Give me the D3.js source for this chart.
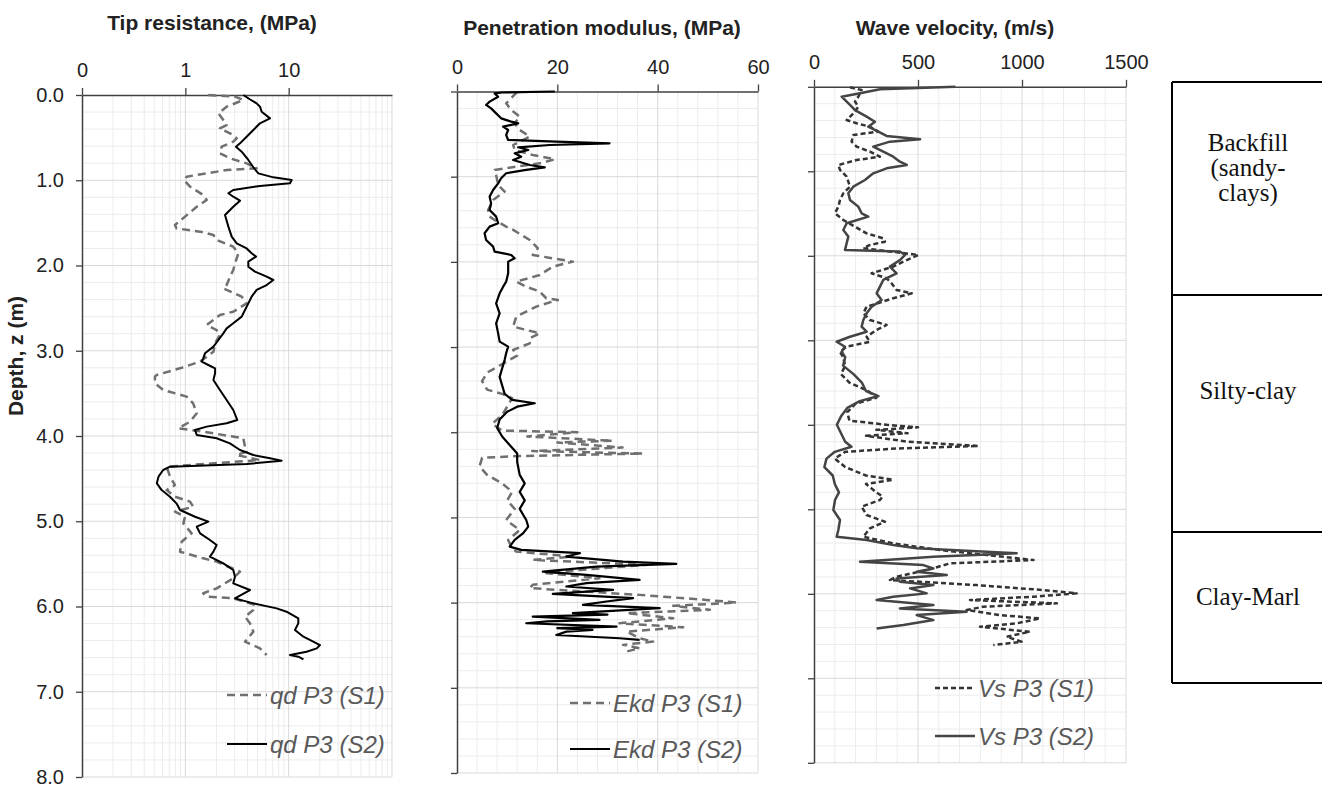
<!DOCTYPE html>
<html lang="en">
<head>
<meta charset="utf-8">
<title>CPT / DMT profiles</title>
<script src="https://cdn.jsdelivr.net/npm/d3@7"></script>
<style>
  body { margin: 0; background: #fff; }
</style>
</head>
<body>
<svg id="chart" width="1322" height="785" font-family="Liberation Sans, Arial, sans-serif"></svg>
<script>
// [depth (m), value]
const qdS1 = [[0,1.67],[0.02,3.03],[0.059,3.64],[0.137,2.51],[0.215,2.09],[0.293,2.33],[0.352,2.51],[0.391,2.16],[0.45,2.71],[0.508,3.14],[0.547,2.91],[0.606,2.25],[0.684,2.16],[0.743,2.71],[0.802,3.92],[0.86,4.9],[0.88,2.51],[0.958,1.03],[0.997,0.971],[1.075,1.11],[1.173,1.49],[1.232,1.61],[1.31,1.29],[1.427,0.993],[1.525,0.794],[1.564,0.82],[1.603,1.39],[1.642,1.87],[1.701,2.01],[1.779,2.91],[1.857,3.26],[1.975,3.03],[2.053,2.91],[2.131,2.71],[2.229,2.51],[2.268,2.33],[2.366,3.51],[2.444,3.92],[2.542,2.91],[2.581,2.16],[2.698,1.61],[2.757,2.01],[2.815,2.16],[2.913,1.94],[3.011,1.87],[3.128,1.39],[3.206,0.888],[3.284,0.528],[3.304,0.508],[3.382,0.508],[3.46,0.612],[3.538,1.03],[3.617,1.19],[3.734,1.29],[3.832,1.11],[3.91,0.856],[3.949,1.49],[4.027,3.64],[4.125,3.78],[4.184,3.92],[4.223,3.14],[4.282,5.28],[4.36,0.66],[4.477,0.711],[4.575,0.794],[4.634,0.66],[4.712,0.794],[4.77,1.11],[4.829,1.19],[4.888,0.794],[4.947,0.993],[5.025,0.957],[5.142,1.15],[5.24,0.922],[5.357,0.888],[5.435,1.49],[5.474,2.01],[5.591,3.38],[5.669,2.91],[5.787,2.01],[5.845,1.49],[5.884,1.61],[5.904,2.91],[5.982,4.72],[6.041,4.55],[6.119,3.78],[6.197,4.22],[6.295,4.55],[6.413,3.78],[6.491,5.28],[6.569,6.12]];
const qdS2 = [[0,3.64],[0.05,4.2],[0.098,4.9],[0.137,5.28],[0.196,5.48],[0.274,6.6],[0.332,5.28],[0.41,4.55],[0.489,3.92],[0.567,3.38],[0.606,3.09],[0.665,3.51],[0.762,4.07],[0.848,4.55],[0.919,5.09],[0.966,7.11],[0.997,10.7],[1.036,10.3],[1.067,5.28],[1.114,2.91],[1.153,2.61],[1.193,2.91],[1.24,3.38],[1.31,2.91],[1.408,2.42],[1.544,2.61],[1.662,2.81],[1.74,3.14],[1.8,3.92],[1.857,4.38],[1.896,4.83],[1.955,4.07],[2.014,4.07],[2.072,4.72],[2.131,6.12],[2.17,7.11],[2.229,6.12],[2.287,4.9],[2.366,4.38],[2.444,4.07],[2.522,3.78],[2.6,3.51],[2.678,2.91],[2.737,2.51],[2.796,2.33],[2.874,2.09],[2.952,1.87],[3.03,1.55],[3.089,1.49],[3.128,1.44],[3.167,1.67],[3.206,1.94],[3.265,1.94],[3.343,1.87],[3.46,2.16],[3.577,2.51],[3.695,2.91],[3.812,3.18],[3.851,2.51],[3.89,1.61],[3.929,1.24],[3.988,1.29],[4.027,2.01],[4.086,2.7],[4.164,3.38],[4.223,4.55],[4.262,6.6],[4.289,8.55],[4.329,3.92],[4.36,0.71],[4.399,0.61],[4.477,0.55],[4.555,0.53],[4.634,0.59],[4.712,0.71],[4.79,0.82],[4.868,0.89],[4.947,1.24],[5.005,1.67],[5.064,1.29],[5.142,1.39],[5.22,1.73],[5.279,2.01],[5.357,1.87],[5.415,1.73],[5.494,2.33],[5.572,2.91],[5.65,3.02],[5.729,2.91],[5.807,4.22],[5.905,3.02],[5.963,4.55],[6.022,7.66],[6.061,9.54],[6.139,12.4],[6.198,12.4],[6.276,11.5],[6.354,13.9],[6.413,17.3],[6.452,20.1],[6.491,18.7],[6.53,14.9],[6.569,10.3],[6.589,12.4],[6.62,13.9]];

const ekdS1 = [[0.005,12],[0.139,9.8],[0.217,10.8],[0.295,12.5],[0.374,11.5],[0.452,12.5],[0.53,14.5],[0.628,11.2],[0.687,11.5],[0.745,15.1],[0.796,19.5],[0.843,16.5],[0.882,11.8],[0.921,7.5],[0.98,7.8],[1.097,8.2],[1.175,9.5],[1.273,7.2],[1.391,6.2],[1.469,6.5],[1.508,7.5],[1.586,9.8],[1.625,11.2],[1.743,14.5],[1.84,16.1],[1.919,15.1],[1.997,23.1],[2.056,19.1],[2.154,16.5],[2.232,11.8],[2.291,13.8],[2.349,16.5],[2.427,17.8],[2.447,20.1],[2.525,15.8],[2.643,11.8],[2.76,11.2],[2.839,16.5],[2.897,14.5],[2.956,14.5],[3.034,11.2],[3.1,12],[3.2,9],[3.3,6],[3.4,5],[3.5,6],[3.55,9],[3.6,11],[3.7,10],[3.8,9],[3.9,7],[3.98,9],[4.0,24],[4.05,14],[4.1,31],[4.12,20],[4.18,33],[4.22,15],[4.25,37],[4.28,12],[4.3,5],[4.4,4.5],[4.5,6],[4.6,9],[4.7,11],[4.8,10],[4.9,11.5],[5.03,9.8],[5.147,12.5],[5.264,10.2],[5.342,10.8],[5.401,11.8],[5.459,23.1],[5.498,15.1],[5.557,37.7],[5.616,24.5],[5.655,17.8],[5.713,28.4],[5.791,15.1],[5.83,14.5],[5.909,36.4],[5.968,49.7],[5.999,55.7],[6.038,43.1],[6.085,50.4],[6.124,33.8],[6.183,43.1],[6.242,32.4],[6.289,45.1],[6.34,33.8],[6.418,36.4],[6.457,39.1],[6.496,33.1],[6.535,36.4],[6.574,33.8]];
const ekdS2 = [[0,19.5],[0.012,9],[0.022,7.5],[0.061,8.2],[0.119,6.5],[0.158,5.8],[0.198,6.8],[0.257,7.8],[0.315,8.8],[0.354,10.8],[0.374,12.2],[0.413,9.2],[0.452,10.2],[0.511,9.8],[0.569,10.2],[0.589,19.8],[0.608,30.4],[0.628,18.5],[0.655,12.2],[0.687,14.2],[0.726,11.5],[0.765,12.8],[0.804,11.2],[0.863,14.5],[0.89,17.5],[0.921,13.8],[0.96,9.8],[1.019,8.8],[1.078,8.2],[1.156,7.2],[1.234,6.5],[1.313,6.8],[1.391,6.5],[1.469,7.8],[1.547,8.2],[1.586,6.5],[1.664,5.5],[1.743,5.8],[1.821,7.2],[1.88,7.5],[1.919,10.8],[1.958,11.5],[1.997,10.2],[2.134,10.2],[2.232,9.8],[2.291,9.2],[2.369,8.5],[2.486,7.8],[2.604,8.5],[2.721,7.8],[2.839,8.2],[2.936,8.5],[2.995,10.2],[3.073,9.8],[3.15,9.5],[3.25,9],[3.35,8.5],[3.45,9],[3.55,9.5],[3.62,11],[3.66,15.5],[3.7,12],[3.76,10],[3.85,8.5],[3.95,8],[4.05,9],[4.15,10.5],[4.25,12],[4.35,12],[4.5,12.5],[4.6,13.5],[4.7,12.5],[4.8,13.5],[4.9,12.5],[5.03,13.8],[5.107,14.2],[5.185,13.2],[5.264,11.5],[5.342,10.5],[5.381,12.8],[5.42,24.5],[5.459,21.8],[5.518,33.1],[5.545,43.7],[5.577,27.8],[5.635,17.1],[5.674,25.8],[5.733,36.4],[5.772,25.8],[5.811,21.8],[5.85,31.1],[5.897,19.1],[5.948,35.1],[5.987,29.8],[6.026,25.1],[6.065,40.4],[6.124,23.1],[6.14,30],[6.164,15.1],[6.203,28.4],[6.22,18],[6.242,13.8],[6.281,31.8],[6.3,20],[6.32,27],[6.34,21.8],[6.38,19.8],[6.418,32.4],[6.438,36.4]];

const vsS1 = [[0.006,173],[0.038,229],[0.117,213],[0.176,197],[0.235,213],[0.314,189],[0.393,157],[0.432,205],[0.472,269],[0.531,309],[0.57,189],[0.649,181],[0.708,205],[0.768,269],[0.827,317],[0.867,205],[0.925,117],[0.984,125],[1.063,157],[1.182,173],[1.26,141],[1.339,125],[1.418,117],[1.497,101],[1.576,141],[1.655,197],[1.734,253],[1.793,333],[1.833,341],[1.872,269],[1.911,237],[1.99,502],[2.05,446],[2.128,381],[2.207,277],[2.266,349],[2.326,373],[2.405,397],[2.444,470],[2.503,381],[2.602,253],[2.681,237],[2.76,269],[2.819,349],[2.878,301],[2.958,253],[3.017,269],[3.076,157],[3.135,125],[3.2,140],[3.3,150],[3.4,130],[3.5,170],[3.6,260],[3.68,300],[3.75,200],[3.85,160],[3.95,170],[4.0,350],[4.03,500],[4.06,300],[4.1,450],[4.13,250],[4.2,450],[4.25,790],[4.28,400],[4.32,150],[4.4,100],[4.5,150],[4.6,250],[4.65,380],[4.7,250],[4.8,300],[4.85,330],[4.89,317],[4.969,229],[5.068,253],[5.147,341],[5.226,269],[5.324,237],[5.403,381],[5.482,606],[5.541,830],[5.6,1055],[5.64,654],[5.719,542],[5.798,397],[5.837,365],[5.897,782],[5.956,1103],[5.995,1263],[6.034,1055],[6.074,750],[6.113,1167],[6.153,814],[6.192,734],[6.252,894],[6.291,1087],[6.35,974],[6.39,798],[6.449,1038],[6.508,926],[6.568,998],[6.607,862]];
const vsS2 = [[0,680],[0.03,317],[0.077,221],[0.117,133],[0.176,157],[0.215,173],[0.275,197],[0.353,253],[0.413,293],[0.472,261],[0.531,309],[0.582,349],[0.622,510],[0.649,365],[0.708,285],[0.768,333],[0.827,381],[0.886,413],[0.925,446],[0.965,349],[1.024,285],[1.103,245],[1.182,189],[1.26,165],[1.339,173],[1.418,213],[1.497,229],[1.536,261],[1.615,157],[1.694,141],[1.773,165],[1.851,157],[1.93,149],[1.95,413],[1.99,438],[2.05,413],[2.128,365],[2.207,397],[2.286,333],[2.365,317],[2.444,301],[2.523,325],[2.602,277],[2.681,253],[2.76,237],[2.839,229],[2.898,253],[2.958,173],[3.017,109],[3.076,149],[3.135,133],[3.2,150],[3.3,140],[3.4,190],[3.5,230],[3.6,250],[3.66,310],[3.72,220],[3.8,160],[3.9,130],[4.0,110],[4.1,130],[4.2,150],[4.26,180],[4.32,100],[4.4,60],[4.5,50],[4.6,90],[4.7,100],[4.8,120],[4.89,101],[5.008,93],[5.126,125],[5.245,117],[5.324,109],[5.364,253],[5.423,381],[5.462,494],[5.521,974],[5.561,574],[5.62,221],[5.66,526],[5.7,574],[5.739,494],[5.778,638],[5.818,397],[5.857,413],[5.897,574],[5.936,462],[5.995,542],[6.034,381],[6.074,301],[6.133,574],[6.173,413],[6.212,734],[6.252,494],[6.311,574],[6.37,430],[6.41,301]];

const depthTicks = [0, 1, 2, 3, 4, 5, 6, 7, 8];
const qdTicks = [0.1, 1, 10];
const ekdTicks = [0, 20, 40, 60];
const vsTicks = [0, 500, 1000, 1500];

const layerNames = [["Backfill", "(sandy-", "clays)"], ["Silty-clay"], ["Clay-Marl"]];
const layerBounds = [0, 2.48, 5.24, 7.0];
const layerLabelDepth = [1.0, 3.6, 6.0];

const svg = d3.select('#chart');

const panels = [
  {
    title: 'Tip resistance, (MPa)', titleX: 212, titleY: 30,
    x: d3.scaleLog().domain([0.1, 100]).range([82, 392]),
    y: d3.scaleLinear().domain([0, 8]).range([95, 777]),
    ticks: qdTicks, fmt: d => d < 1 ? '0' : d,
    major: [1, 10, 100],
    minor: [0.1, 1, 10].flatMap(b => d3.range(2, 10).map(k => b * k)),
    yLabels: true,
    series: [
      { data: qdS1, color: '#707070', width: 2.5, dash: '8,5', name: 'qd P3 (S1)' },
      { data: qdS2, color: '#000', width: 2, dash: null, name: 'qd P3 (S2)' }
    ],
    legX: 227, legY: [695, 744]
  },
  {
    title: 'Penetration modulus, (MPa)', titleX: 602, titleY: 35,
    x: d3.scaleLinear().domain([0, 60]).range([457, 758]),
    y: d3.scaleLinear().domain([0, 8]).range([91.5, 773]),
    ticks: ekdTicks, fmt: d => d,
    major: [20, 40, 60],
    minor: d3.range(4, 60, 4).filter(v => v % 20 !== 0),
    yLabels: false,
    series: [
      { data: ekdS1, color: '#707070', width: 2.5, dash: '8,5', name: 'Ekd P3 (S1)' },
      { data: ekdS2, color: '#000', width: 2.2, dash: null, name: 'Ekd P3 (S2)' }
    ],
    legX: 570, legY: [703, 749]
  },
  {
    title: 'Wave velocity, (m/s)', titleX: 955, titleY: 35,
    x: d3.scaleLinear().domain([0, 1500]).range([814, 1126]),
    y: d3.scaleLinear().domain([0, 8]).range([86.8, 762.8]),
    ticks: vsTicks, fmt: d => d,
    major: [500, 1000, 1500],
    minor: d3.range(100, 1500, 100).filter(v => v % 500 !== 0),
    yLabels: false,
    series: [
      { data: vsS1, color: '#333', width: 2.5, dash: '5,3', name: 'Vs P3 (S1)' },
      { data: vsS2, color: '#444', width: 2.5, dash: null, name: 'Vs P3 (S2)' }
    ],
    legX: 935, legY: [688, 736]
  }
];

panels.forEach(p => {
  const g = svg.append('g');
  const [x0, x1] = p.x.range();
  const [y0, y1] = p.y.range();
  const hMinor = d3.range(1, 40).map(i => i * 0.2).filter(v => Math.abs(v - Math.round(v)) > 1e-6);
  const hMajor = d3.range(1, 9);

  // grid
  g.selectAll('.vminor').data(p.minor).join('line')
    .attr('x1', d => p.x(d)).attr('x2', d => p.x(d))
    .attr('y1', y0).attr('y2', y1)
    .attr('stroke', '#ececec').attr('stroke-width', 1);
  g.selectAll('.hminor').data(hMinor).join('line')
    .attr('x1', x0).attr('x2', x1)
    .attr('y1', d => p.y(d)).attr('y2', d => p.y(d))
    .attr('stroke', '#ececec').attr('stroke-width', 1);
  g.selectAll('.vmajor').data(p.major).join('line')
    .attr('x1', d => p.x(d)).attr('x2', d => p.x(d))
    .attr('y1', y0).attr('y2', y1)
    .attr('stroke', '#d9d9d9').attr('stroke-width', 1);
  g.selectAll('.hmajor').data(hMajor).join('line')
    .attr('x1', x0).attr('x2', x1)
    .attr('y1', d => p.y(d)).attr('y2', d => p.y(d))
    .attr('stroke', '#d9d9d9').attr('stroke-width', 1);

  // top axis
  const top = g.append('g').attr('transform', `translate(0,${y0})`)
    .call(d3.axisTop(p.x).tickValues(p.ticks).tickFormat(p.fmt).tickSize(7).tickSizeOuter(0));
  top.select('.domain').attr('stroke', '#404040').attr('stroke-width', 1.5);
  top.selectAll('.tick line').attr('stroke', '#404040').attr('stroke-width', 1.3);
  top.selectAll('.tick text').attr('font-size', 20).attr('fill', '#222')
    .attr('font-family', 'Liberation Sans, Arial, sans-serif').attr('dy', '-0.4em');

  // left axis
  const left = g.append('g').attr('transform', `translate(${x0},0)`)
    .call(d3.axisLeft(p.y).tickValues(depthTicks).tickFormat(p.yLabels ? d3.format('.1f') : '').tickSize(6).tickSizeOuter(0));
  left.select('.domain').attr('stroke', '#404040').attr('stroke-width', 1.5);
  left.selectAll('.tick line').attr('stroke', '#404040').attr('stroke-width', 1.3);
  left.selectAll('.tick text').attr('font-size', 20).attr('fill', '#222')
    .attr('font-family', 'Liberation Sans, Arial, sans-serif').attr('dx', '-0.45em');

  // title
  g.append('text').attr('x', p.titleX).attr('y', p.titleY)
    .attr('text-anchor', 'middle').attr('font-weight', 'bold').attr('font-size', 21)
    .attr('fill', '#222').text(p.title);

  // profiles
  const line = d3.line().x(d => p.x(d[1])).y(d => p.y(d[0]));
  p.series.forEach(s => {
    g.append('path').datum(s.data)
      .attr('fill', 'none').attr('stroke', s.color).attr('stroke-width', s.width)
      .attr('stroke-linejoin', 'round')
      .attr('stroke-dasharray', s.dash).attr('d', line);
  });

  // legend
  p.series.forEach((s, i) => {
    const ly = p.legY[i];
    g.append('line').attr('x1', p.legX).attr('x2', p.legX + 40).attr('y1', ly).attr('y2', ly)
      .attr('stroke', s.color).attr('stroke-width', s.width).attr('stroke-dasharray', s.dash);
    g.append('text').attr('x', p.legX + 43).attr('y', ly + 9)
      .attr('font-size', 24).attr('font-style', 'italic').attr('fill', '#595959').text(s.name);
  });
});

// depth axis title
svg.append('text').attr('transform', 'translate(23,356) rotate(-90)')
  .attr('text-anchor', 'middle').attr('font-weight', 'bold').attr('font-size', 21)
  .attr('fill', '#222').text('Depth, z (m)');

// soil column
const colY = d3.scaleLinear().domain([0, 7]).range([82, 683]);
const col = svg.append('g');
const colX0 = 1172, colX1 = 1330;
col.append('line').attr('x1', colX0).attr('x2', colX0).attr('y1', colY(0)).attr('y2', colY(7))
  .attr('stroke', '#000').attr('stroke-width', 2);
col.selectAll('.bound').data(layerBounds).join('line')
  .attr('x1', colX0).attr('x2', colX1)
  .attr('y1', d => colY(d)).attr('y2', d => colY(d))
  .attr('stroke', '#000').attr('stroke-width', 2);
layerNames.forEach((lines, i) => {
  const mid = colY(layerLabelDepth[i]);
  const lh = 25;
  lines.forEach((t, j) => {
    col.append('text').attr('x', 1248)
      .attr('y', mid + (j - (lines.length - 1) / 2) * lh + 8)
      .attr('text-anchor', 'middle').attr('font-size', 25)
      .attr('font-family', 'Liberation Serif, Times New Roman, serif')
      .attr('fill', '#111').text(t);
  });
});
</script>
</body>
</html>
